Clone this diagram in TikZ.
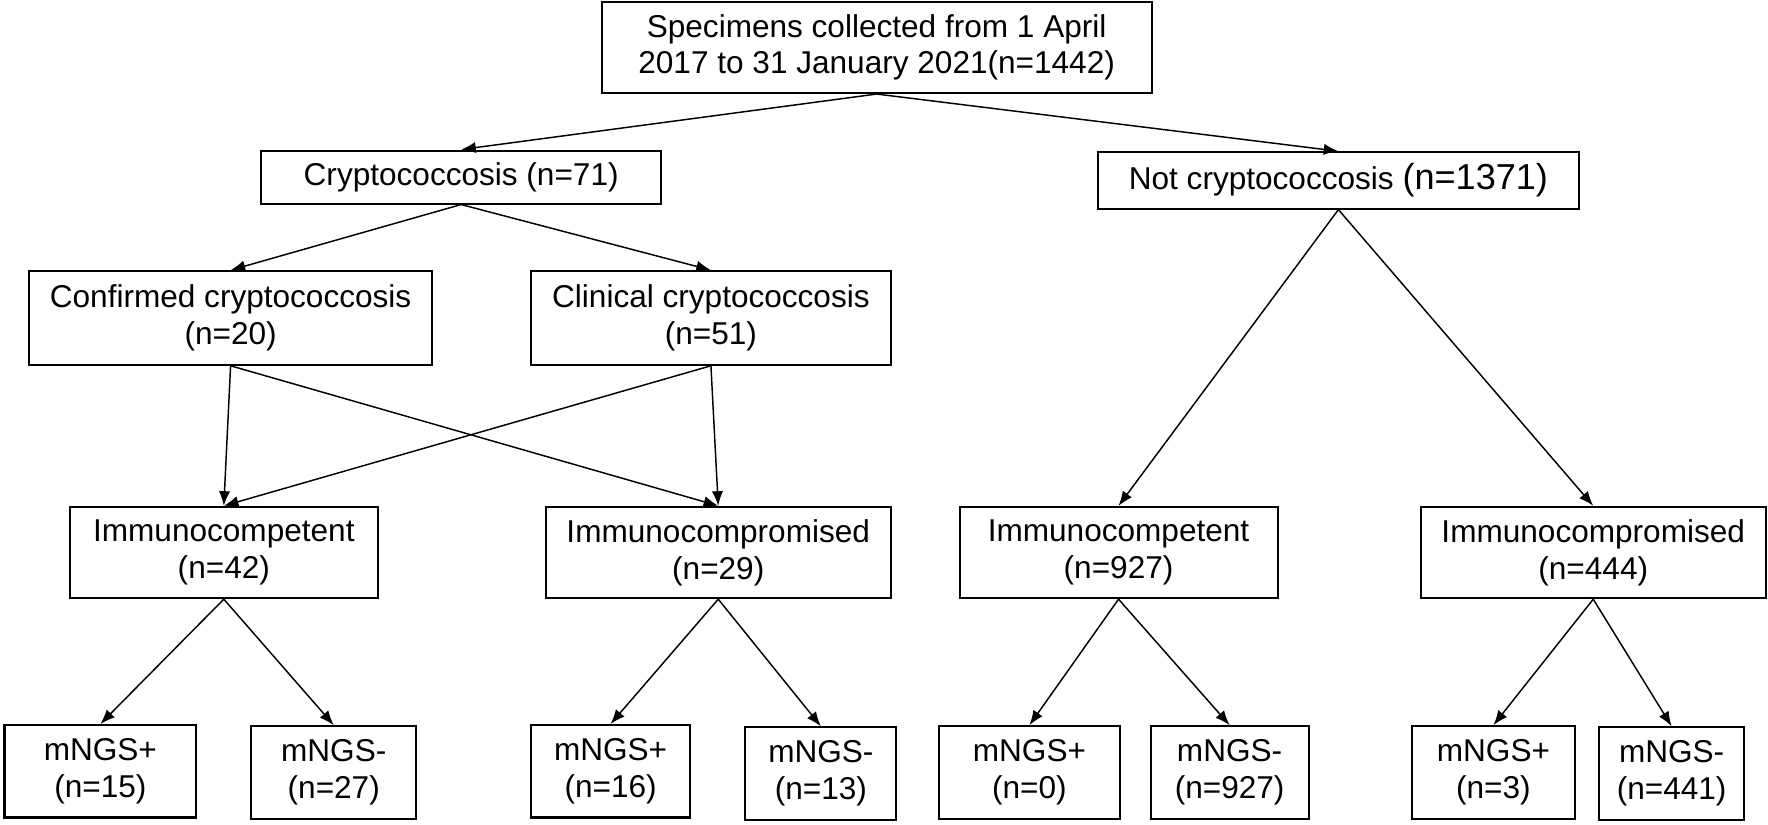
\documentclass[tikz,border=0pt]{standalone}
\usepackage{fontspec}
\setmainfont{Liberation Sans}
\usetikzlibrary{arrows.meta}
\begin{document}
\begin{tikzpicture}[x=1pt,y=-1pt,
  box/.style={draw,line width=1.8pt,align=center,inner sep=0pt,font=\fontsize{28}{32.5}\selectfont},
  arr/.style={line width=1.3pt,-{Latex[length=13pt,width=10pt]}}]
\useasboundingbox[fill=white] (0,0) rectangle (1568,731);
% top
\node[box,minimum width=488pt,minimum height=81pt] (top) at (777.5,42) {Specimens collected from 1 April\\2017 to 31 January 2021(n=1442)};
% level 2
\node[box,minimum width=355pt,minimum height=47pt] (crypto) at (409,157) {Cryptococcosis (n=71)};
\node[box,minimum width=426pt,minimum height=50pt] (notc) at (1187,160) {Not cryptococcosis {\fontsize{32}{32}\selectfont(n=1371)}};
% level 3
\node[box,minimum width=357pt,minimum height=83pt] (conf) at (204.5,282) {Confirmed cryptococcosis\\(n=20)};
\node[box,minimum width=319pt,minimum height=83pt] (clin) at (630.5,282) {Clinical cryptococcosis\\(n=51)};
% level 4
\node[box,minimum width=273pt,minimum height=81pt] (ica) at (198.5,490) {Immunocompetent\\(n=42)};
\node[box,minimum width=306pt,minimum height=81pt] (icpa) at (637,490) {Immunocompromised\\(n=29)};
\node[box,minimum width=282pt,minimum height=81pt] (icb) at (992,490) {Immunocompetent\\(n=927)};
\node[box,minimum width=306pt,minimum height=81pt] (icpb) at (1413,490) {Immunocompromised\\(n=444)};
% level 5
\node[box,minimum width=170pt,minimum height=82pt] (p1) at (89,684) {mNGS+\\(n=15)};
\node[box,minimum width=146pt,minimum height=82pt] (m1) at (296,685) {mNGS-\\(n=27)};
\node[box,minimum width=141pt,minimum height=82pt] (p2) at (541.5,684) {mNGS+\\(n=16)};
\node[box,minimum width=134pt,minimum height=82pt] (m2) at (728,686) {mNGS-\\(n=13)};
\node[box,minimum width=160pt,minimum height=82pt] (p3) at (913,685) {mNGS+\\(n=0)};
\node[box,minimum width=140pt,minimum height=82pt] (m3) at (1090.5,685) {mNGS-\\(n=927)};
\node[box,minimum width=145pt,minimum height=82pt] (p4) at (1324.5,685) {mNGS+\\(n=3)};
\node[box,minimum width=129pt,minimum height=82pt] (m4) at (1482.5,686) {mNGS-\\(n=441)};
% connectors
\draw[arr] (top.south) -- (crypto.north);
\draw[arr] (top.south) -- (notc.north);
\draw[arr] (crypto.south) -- (conf.north);
\draw[arr] (crypto.south) -- (clin.north);
\draw[arr] (conf.south) -- (ica.north);
\draw[arr] (conf.south) -- (icpa.north);
\draw[arr] (clin.south) -- (ica.north);
\draw[arr] (clin.south) -- (icpa.north);
\draw[arr] (notc.south) -- (icb.north);
\draw[arr] (notc.south) -- (icpb.north);
\draw[arr] (ica.south) -- (p1.north);
\draw[arr] (ica.south) -- (m1.north);
\draw[arr] (icpa.south) -- (p2.north);
\draw[arr] (icpa.south) -- (m2.north);
\draw[arr] (icb.south) -- (p3.north);
\draw[arr] (icb.south) -- (m3.north);
\draw[arr] (icpb.south) -- (p4.north);
\draw[arr] (icpb.south) -- (m4.north);
\end{tikzpicture}
\end{document}
